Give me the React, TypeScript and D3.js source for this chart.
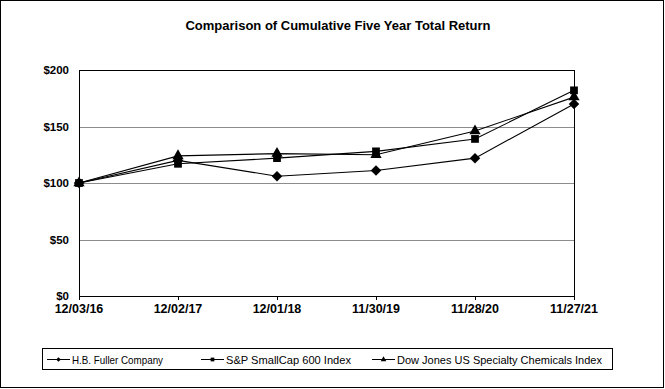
import React, { useEffect, useRef } from 'react';
import * as d3 from 'd3';

const dates = ['12/03/16', '12/02/17', '12/01/18', '11/30/19', '11/28/20', '11/27/21'];
const fullerValues = [100, 120, 106, 111, 122, 170];
const smallCapValues = [100, 117, 122, 128, 139, 182];
const dowJonesValues = [100, 124, 126, 125, 146, 176];
const yTicks = [0, 50, 100, 150, 200];

const seriesNames = ['H.B. Fuller Company', 'S&P SmallCap 600 Index', 'Dow Jones US Specialty Chemicals Index'];
const seriesSymbols = [d3.symbolDiamond2, d3.symbolSquare, d3.symbolTriangle];

const App = () => {
    const d3Container = useRef<SVGSVGElement | null>(null);

    useEffect(() => {
        const width = 665;
        const height = 389;
        const margin = { top: 70, right: 91, bottom: 93, left: 79 };

        const svg = d3.select(d3Container.current);
        svg.selectAll('*').remove();

        const font = 'Arial, "Liberation Sans", sans-serif';

        // outer frame
        svg.append('rect')
            .attr('x', 0.5).attr('y', 0.5)
            .attr('width', 663).attr('height', 387)
            .attr('fill', 'white').attr('stroke', 'black').attr('stroke-width', 1);

        svg.append('text')
            .attr('x', 338).attr('y', 30)
            .attr('text-anchor', 'middle')
            .attr('font-family', font).attr('font-weight', 'bold').attr('font-size', 13)
            .text('Comparison of Cumulative Five Year Total Return');

        const x = d3.scalePoint().domain(dates).range([margin.left, width - margin.right]);
        const y = d3.scaleLinear().domain([0, 200]).range([height - margin.bottom, margin.top]);

        // gridlines
        svg.selectAll('.grid')
            .data(yTicks.filter(t => t > 0 && t < 200))
            .enter()
            .append('line')
            .attr('x1', margin.left).attr('x2', width - margin.right)
            .attr('y1', d => Math.round(y(d)) + 0.5).attr('y2', d => Math.round(y(d)) + 0.5)
            .attr('stroke', '#8c8c8c').attr('stroke-width', 1);

        // plot frame
        svg.append('rect')
            .attr('x', margin.left + 0.5).attr('y', margin.top + 0.5)
            .attr('width', width - margin.right - margin.left).attr('height', height - margin.bottom - margin.top)
            .attr('fill', 'none').attr('stroke', 'black').attr('stroke-width', 1);

        // y labels
        svg.selectAll('.ylab')
            .data(yTicks)
            .enter()
            .append('text')
            .attr('x', 69).attr('y', d => y(d))
            .attr('dy', '0.35em')
            .attr('text-anchor', 'end')
            .attr('font-family', font).attr('font-weight', 'bold').attr('font-size', 11.5)
            .text(d => `$${d}`);

        // x ticks and labels
        svg.selectAll('.xtick')
            .data(dates)
            .enter()
            .append('line')
            .attr('x1', d => Math.round(x(d)!) + 0.5).attr('x2', d => Math.round(x(d)!) + 0.5)
            .attr('y1', y(0)).attr('y2', y(0) + 4)
            .attr('stroke', 'black');

        svg.selectAll('.xlab')
            .data(dates)
            .enter()
            .append('text')
            .attr('x', d => x(d)!).attr('y', 313)
            .attr('text-anchor', 'middle')
            .attr('font-family', font).attr('font-weight', 'bold').attr('font-size', 12.5)
            .text(d => d);

        const allSeries = [fullerValues, smallCapValues, dowJonesValues];
        const line = d3.line<number>().x((_, i) => x(dates[i])!).y(d => y(d));

        allSeries.forEach((values) => {
            svg.append('path')
                .attr('d', line(values))
                .attr('fill', 'none').attr('stroke', 'black').attr('stroke-width', 1.1);
        });

        allSeries.forEach((values, s) => {
            const sym = d3.symbol().type(seriesSymbols[s]).size(s === 0 ? 70 : s === 1 ? 60 : 55);
            svg.selectAll(`.m${s}`)
                .data(values)
                .enter()
                .append('path')
                .attr('transform', (d, i) => `translate(${x(dates[i])},${y(d)})`)
                .attr('d', sym)
                .attr('fill', 'black');
        });

        // legend
        svg.append('rect')
            .attr('x', 42.5).attr('y', 348.5)
            .attr('width', 570).attr('height', 21)
            .attr('fill', 'white').attr('stroke', 'black');

        const legendLineStart = [47, 201, 372];
        const legendTextWidth = [91, 125, 205];
        seriesNames.forEach((name, s) => {
            const lx = legendLineStart[s];
            svg.append('line')
                .attr('x1', lx).attr('x2', lx + 23)
                .attr('y1', 359.5).attr('y2', 359.5)
                .attr('stroke', 'black');
            svg.append('path')
                .attr('transform', `translate(${lx + 11.5},359.5)`)
                .attr('d', d3.symbol().type(seriesSymbols[s]).size(14)())
                .attr('fill', 'black');
            svg.append('text')
                .attr('x', lx + 25).attr('y', 363.5)
                .attr('font-family', font).attr('font-size', 11)
                .attr('textLength', legendTextWidth[s])
                .attr('lengthAdjust', 'spacingAndGlyphs')
                .text(name);
        });
    }, []);

    return <svg ref={d3Container} width={665} height={389}
        style={{ position: 'absolute', left: 0, top: 0, background: 'white' }} />;
};

export default App;
